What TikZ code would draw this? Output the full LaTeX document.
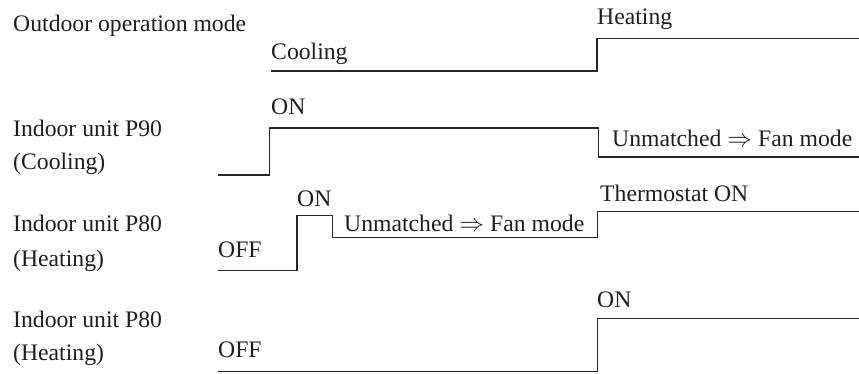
\documentclass[tikz,border=0pt]{standalone}
\usepackage{fontspec}
\setmainfont{Liberation Serif}
\begin{document}
\begin{tikzpicture}[x=1pt,y=-1pt,
  lbl/.style={anchor=base west,inner sep=0pt,font=\fontsize{23.7}{28}\selectfont,text=black!88},
  wave/.style={line width=1.3pt,draw=black!85,line join=miter}]
\useasboundingbox (0,0) rectangle (859,374);
% left labels
\node[lbl] (l0) at (13,32) {Outdoor operation mode};
\node[lbl] (l1a) at (13,137) {Indoor unit P90};
\node[lbl] (l1b) at (13,170) {(Cooling)};
\node[lbl] (l2a) at (13,232) {Indoor unit P80};
\node[lbl] (l2b) at (13,266) {(Heating)};
\node[lbl] (l3a) at (13,327) {Indoor unit P80};
\node[lbl] (l3b) at (13,360) {(Heating)};
% state labels
\node[lbl] (cool) at (271,60) {Cooling};
\node[lbl] (heat) at (597,25) {Heating};
\node[lbl] (on1) at (271,115) {ON};
\node[lbl] (fan1) at (612,147) {Unmatched $\Rightarrow$ Fan mode};
\node[lbl] (on2) at (297,207) {ON};
\node[lbl] (fan2) at (344,232) {Unmatched $\Rightarrow$ Fan mode};
\node[lbl] (thermo) at (600,202) {Thermostat ON};
\node[lbl] (off2) at (218,257) {OFF};
\node[lbl] (on3) at (597,307) {ON};
\node[lbl] (off3) at (218,357) {OFF};
% waveforms
\draw[wave] (271,71) -- (597,71) -- (597,38.5) -- (859,38.5);
\draw[wave] (218,175) -- (269.5,175) -- (269.5,128) -- (598.5,128) -- (598.5,157) -- (859,157);
\draw[wave] (218,270.5) -- (297,270.5) -- (297,215.5) -- (332.5,215.5) -- (332.5,237.5) -- (597.5,237.5) -- (597.5,211.5) -- (859,211.5);
\draw[wave] (218,371.5) -- (597.5,371.5) -- (597.5,318.5) -- (859,318.5);
\end{tikzpicture}
\end{document}
